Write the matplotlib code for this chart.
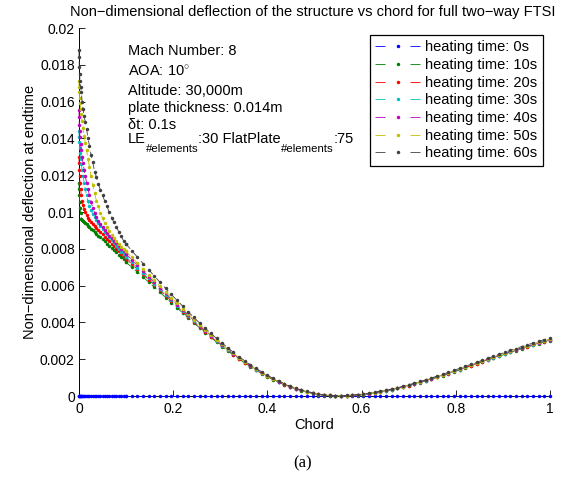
import numpy as np
import matplotlib
matplotlib.use('Agg')
import matplotlib.pyplot as plt
from matplotlib.lines import Line2D
from matplotlib.transforms import offset_copy

plt.rcParams['font.family'] = ['Liberation Sans', 'DejaVu Sans']
plt.rcParams['mathtext.fontset'] = 'custom'
plt.rcParams['mathtext.rm'] = 'Liberation Sans'
plt.rcParams['mathtext.it'] = 'Liberation Sans:italic'
plt.rcParams['mathtext.bf'] = 'Liberation Sans:bold'
plt.rcParams['lines.scale_dashes'] = False

# ---------------- data ----------------
heating_labels = ['heating time: 0s', 'heating time: 10s', 'heating time: 20s',
                  'heating time: 30s', 'heating time: 40s', 'heating time: 50s',
                  'heating time: 60s']

# leading-edge nodes (30 elements) chord positions
chord_le = [0.0, 0.00014, 0.00055, 0.00123, 0.00219, 0.00341, 0.00489, 0.00664,
            0.00865, 0.0109, 0.0134, 0.01613, 0.0191, 0.02229, 0.02569, 0.02929,
            0.03309, 0.03707, 0.04122, 0.04554, 0.05, 0.0546, 0.05933, 0.06416,
            0.0691, 0.07412, 0.07921, 0.08436, 0.08955, 0.09477, 0.1]
# flat plate nodes (75 elements)
chord_plate = np.linspace(0.1, 1.0, 76)

le_0s = [0.0] * 31
le_10s = [0.01157, 0.01123, 0.01090, 0.01057, 0.01024, 0.00992, 0.00962, 0.00956,
          0.00951, 0.00946, 0.00940, 0.00933, 0.00926, 0.00918, 0.00910, 0.00901,
          0.00892, 0.00882, 0.00872, 0.00862, 0.00851, 0.00840, 0.00828, 0.00817,
          0.00805, 0.00793, 0.00780, 0.00768, 0.00755, 0.00743, 0.00730]
le_20s = [0.01300, 0.01265, 0.01230, 0.01195, 0.01160, 0.01125, 0.01090, 0.01062,
          0.01038, 0.01017, 0.00999, 0.00983, 0.00969, 0.00956, 0.00945, 0.00934,
          0.00923, 0.00912, 0.00901, 0.00890, 0.00878, 0.00866, 0.00854, 0.00841,
          0.00828, 0.00815, 0.00801, 0.00787, 0.00773, 0.00759, 0.00746]
le_30s = [0.01442, 0.01410, 0.01380, 0.01350, 0.01320, 0.01290, 0.01260, 0.01228,
          0.01196, 0.01160, 0.01125, 0.01090, 0.01058, 0.01032, 0.01010, 0.00990,
          0.00972, 0.00955, 0.00940, 0.00925, 0.00910, 0.00894, 0.00878, 0.00862,
          0.00847, 0.00831, 0.00815, 0.00800, 0.00785, 0.00771, 0.00758]
le_40s = [0.01554, 0.01515, 0.01475, 0.01440, 0.01405, 0.01370, 0.01335, 0.01300,
          0.01265, 0.01230, 0.01195, 0.01160, 0.01125, 0.01090, 0.01055, 0.01022,
          0.00995, 0.00972, 0.00952, 0.00934, 0.00917, 0.00901, 0.00886, 0.00871,
          0.00857, 0.00843, 0.00829, 0.00815, 0.00801, 0.00787, 0.00773]
le_50s = [0.01710, 0.01680, 0.01650, 0.01620, 0.01590, 0.01560, 0.01530, 0.01495,
          0.01455, 0.01415, 0.01375, 0.01335, 0.01290, 0.01243, 0.01194, 0.01148,
          0.01102, 0.01060, 0.01030, 0.00995, 0.00965, 0.00940, 0.00917, 0.00896,
          0.00877, 0.00859, 0.00842, 0.00827, 0.00812, 0.00799, 0.00786]
le_60s = [0.01880, 0.01840, 0.01790, 0.01750, 0.01710, 0.01680, 0.01650, 0.01600,
          0.01560, 0.01520, 0.01490, 0.01450, 0.01400, 0.01360, 0.01310, 0.01270,
          0.01220, 0.01190, 0.01150, 0.01120, 0.01090, 0.01060, 0.01030, 0.01000,
          0.00970, 0.00944, 0.00918, 0.00893, 0.00868, 0.00843, 0.00826]

plate_0s = [0.0] * 76
plate_10s = [0.00726, 0.00700, 0.00673, 0.00646, 0.00619, 0.00591, 0.00563, 0.00535, 0.00507, 0.00479,
             0.00452, 0.00424, 0.00397, 0.00370, 0.00344, 0.00318, 0.00293, 0.00269, 0.00245, 0.00222,
             0.00200, 0.00179, 0.00159, 0.00140, 0.00122, 0.00105, 0.00089, 0.00075, 0.00061, 0.00049,
             0.00038, 0.00029, 0.00021, 0.00014, 0.00008, 0.00004, 0.00002, 0.0, 0.0, 0.00001,
             0.00003, 0.00005, 0.00008, 0.00012, 0.00017, 0.00022, 0.00028, 0.00034, 0.00041, 0.00048,
             0.00056, 0.00065, 0.00073, 0.00082, 0.00092, 0.00101, 0.00111, 0.00121, 0.00132, 0.00142,
             0.00153, 0.00163, 0.00174, 0.00185, 0.00195, 0.00206, 0.00216, 0.00227, 0.00237, 0.00247,
             0.00257, 0.00266, 0.00275, 0.00284, 0.00293, 0.00301]
plate_20s = [0.00746, 0.00718, 0.00689, 0.00661, 0.00632, 0.00603, 0.00574, 0.00545, 0.00516, 0.00487,
             0.00459, 0.00431, 0.00403, 0.00375, 0.00349, 0.00322, 0.00297, 0.00273, 0.00248, 0.00225,
             0.00203, 0.00181, 0.00161, 0.00142, 0.00124, 0.00107, 0.00090, 0.00076, 0.00062, 0.00050,
             0.00039, 0.00030, 0.00022, 0.00015, 0.00009, 0.00005, 0.00003, 0.0, 0.0, 0.00001,
             0.00004, 0.00006, 0.00009, 0.00013, 0.00018, 0.00023, 0.00029, 0.00035, 0.00042, 0.00049,
             0.00057, 0.00066, 0.00074, 0.00083, 0.00093, 0.00102, 0.00112, 0.00122, 0.00134, 0.00144,
             0.00155, 0.00165, 0.00176, 0.00187, 0.00197, 0.00208, 0.00218, 0.00229, 0.00239, 0.00249,
             0.00259, 0.00268, 0.00278, 0.00287, 0.00296, 0.00304]
plate_30s = [0.00756, 0.00727, 0.00698, 0.00668, 0.00639, 0.00609, 0.00580, 0.00550, 0.00521, 0.00491,
             0.00463, 0.00434, 0.00406, 0.00378, 0.00352, 0.00325, 0.00299, 0.00274, 0.00250, 0.00227,
             0.00204, 0.00183, 0.00162, 0.00143, 0.00125, 0.00107, 0.00091, 0.00077, 0.00063, 0.00051,
             0.00040, 0.00030, 0.00022, 0.00015, 0.00009, 0.00005, 0.00003, 0.00001, 0.00001, 0.00002,
             0.00004, 0.00006, 0.00009, 0.00013, 0.00018, 0.00023, 0.00029, 0.00035, 0.00042, 0.00050,
             0.00058, 0.00067, 0.00075, 0.00084, 0.00094, 0.00103, 0.00113, 0.00123, 0.00134, 0.00144,
             0.00155, 0.00166, 0.00177, 0.00188, 0.00198, 0.00209, 0.00219, 0.00230, 0.00240, 0.00250,
             0.00261, 0.00270, 0.00279, 0.00288, 0.00297, 0.00305]
plate_40s = [0.00771, 0.00741, 0.00710, 0.00679, 0.00649, 0.00618, 0.00588, 0.00558, 0.00527, 0.00497,
             0.00469, 0.00439, 0.00411, 0.00382, 0.00355, 0.00328, 0.00302, 0.00277, 0.00253, 0.00229,
             0.00206, 0.00184, 0.00164, 0.00145, 0.00126, 0.00109, 0.00092, 0.00078, 0.00064, 0.00051,
             0.00040, 0.00031, 0.00023, 0.00016, 0.00009, 0.00005, 0.00003, 0.00001, 0.00001, 0.00002,
             0.00004, 0.00006, 0.00009, 0.00013, 0.00019, 0.00024, 0.00030, 0.00036, 0.00043, 0.00050,
             0.00058, 0.00067, 0.00076, 0.00085, 0.00095, 0.00104, 0.00114, 0.00124, 0.00136, 0.00146,
             0.00157, 0.00167, 0.00178, 0.00189, 0.00200, 0.00211, 0.00221, 0.00232, 0.00242, 0.00252,
             0.00262, 0.00271, 0.00281, 0.00290, 0.00299, 0.00307]
plate_50s = [0.00786, 0.00754, 0.00722, 0.00690, 0.00659, 0.00628, 0.00596, 0.00565, 0.00534, 0.00504,
             0.00474, 0.00444, 0.00415, 0.00386, 0.00359, 0.00331, 0.00305, 0.00280, 0.00255, 0.00231,
             0.00208, 0.00186, 0.00166, 0.00146, 0.00127, 0.00110, 0.00093, 0.00079, 0.00065, 0.00052,
             0.00041, 0.00031, 0.00023, 0.00016, 0.00010, 0.00006, 0.00004, 0.00001, 0.00001, 0.00002,
             0.00005, 0.00007, 0.00010, 0.00014, 0.00019, 0.00024, 0.00030, 0.00036, 0.00043, 0.00051,
             0.00059, 0.00068, 0.00077, 0.00086, 0.00096, 0.00105, 0.00115, 0.00125, 0.00137, 0.00147,
             0.00158, 0.00168, 0.00179, 0.00190, 0.00201, 0.00212, 0.00222, 0.00234, 0.00244, 0.00254,
             0.00264, 0.00273, 0.00283, 0.00292, 0.00301, 0.00309]
plate_60s = [0.00826, 0.00790, 0.00755, 0.00720, 0.00686, 0.00652, 0.00618, 0.00585, 0.00552, 0.00520,
             0.00489, 0.00457, 0.00427, 0.00397, 0.00369, 0.00340, 0.00313, 0.00287, 0.00262, 0.00237,
             0.00214, 0.00191, 0.00170, 0.00150, 0.00131, 0.00113, 0.00096, 0.00082, 0.00067, 0.00054,
             0.00043, 0.00033, 0.00025, 0.00018, 0.00011, 0.00007, 0.00005, 0.00002, 0.00002, 0.00003,
             0.00006, 0.00008, 0.00011, 0.00015, 0.00021, 0.00026, 0.00032, 0.00038, 0.00045, 0.00053,
             0.00061, 0.00070, 0.00079, 0.00088, 0.00098, 0.00108, 0.00118, 0.00128, 0.00140, 0.00150,
             0.00161, 0.00172, 0.00183, 0.00194, 0.00205, 0.00216, 0.00226, 0.00238, 0.00248, 0.00258,
             0.00269, 0.00278, 0.00288, 0.00297, 0.00307, 0.00315]

le_series = [le_0s, le_10s, le_20s, le_30s, le_40s, le_50s, le_60s]
plate_series = [plate_0s, plate_10s, plate_20s, plate_30s, plate_40s, plate_50s, plate_60s]

x_ticks = [0, 0.2, 0.4, 0.6, 0.8, 1.0]
x_ticklabels = ['0', '0.2', '0.4', '0.6', '0.8', '1']
y_ticks = [0, 0.002, 0.004, 0.006, 0.008, 0.01, 0.012, 0.014, 0.016, 0.018, 0.02]
y_ticklabels = ['0', '0.002', '0.004', '0.006', '0.008', '0.01', '0.012', '0.014',
                '0.016', '0.018', '0.02']

colors = [(0, 0, 1), (0, 0.5, 0), (1, 0, 0), (0, 0.75, 0.75),
          (0.75, 0, 0.75), (0.75, 0.75, 0), (0.25, 0.25, 0.25)]

FS = 10.5

# ---------------- figure ----------------
fig = plt.figure(figsize=(5.7, 4.87), dpi=100)
ax = fig.add_axes([79 / 570, 1 - 396 / 487, 471 / 570, 368 / 487])

style = dict(lw=0.6, ls='--', dashes=(4.5, 3.7), marker='o', ms=2.5, mew=0, clip_on=False)
for i in range(7):
    ax.plot(chord_le, le_series[i], color=colors[i], zorder=3 + i, **style)
    ax.plot(chord_plate, plate_series[i], color=colors[i], zorder=3 + i, **style)

ax.set_xlim(0, 1)
ax.set_ylim(0, 0.02)
ax.set_xticks(x_ticks)
ax.set_xticklabels(x_ticklabels)
ax.set_yticks(y_ticks)
ax.set_yticklabels(y_ticklabels)
ax.tick_params(direction='in', length=4, width=0.6, labelsize=10, top=False, right=False)
ax.tick_params(axis='y', pad=3)
ax.tick_params(axis='x', pad=4)
for s in ['top', 'right']:
    ax.spines[s].set_visible(False)
for s in ['left', 'bottom']:
    ax.spines[s].set_linewidth(0.7)

ax.set_xlabel('Chord', fontsize=FS, labelpad=2)
ax.set_ylabel('Non\u2212dimensional deflection at endtime', fontsize=FS, labelpad=2)

fig.text(313 / 570, 1 - 12 / 487,
         'Non\u2212dimensional deflection of the structure vs chord for full two\u2212way FTSI',
         ha='center', va='center', fontsize=FS)

# annotation block
tx = (128 - 79) / 471
def ybase(px):
    return (396 - px) / 368

ax.text(tx, ybase(55), 'Mach Number: 8', transform=ax.transAxes, fontsize=FS, va='baseline')
ax.text(tx, ybase(76), r'AOA: 10$^{\circ}$', transform=ax.transAxes, fontsize=FS, va='baseline')
ax.text(tx, ybase(95), 'Altitude: 30,000m', transform=ax.transAxes, fontsize=FS, va='baseline')
ax.text(tx, ybase(111.7), 'plate thickness: 0.014m', transform=ax.transAxes, fontsize=FS, va='baseline')
ax.text(tx, ybase(129.3), '\u03b4t: 0.1s', transform=ax.transAxes, fontsize=FS, va='baseline')

# LE_{#elements}:30 FlatPlate_{#elements}:75 built from pieces
pieces = [('LE', FS, 0), ('#elements', FS * 0.78, -6.0), (':30 FlatPlate', FS, 0),
          ('#elements', FS * 0.78, -6.0), (':75', FS, 0)]
fig.canvas.draw()
renderer = fig.canvas.get_renderer()
xoff = 0.0
for txt, size, dy in pieces:
    tr = offset_copy(ax.transAxes, fig=fig, x=xoff, y=dy, units='points')
    t = ax.text(tx, ybase(143.3), txt, transform=tr, fontsize=size, va='baseline')
    bb = t.get_window_extent(renderer=renderer)
    xoff += bb.width * 72.0 / fig.dpi

# legend with proxy handles
handles = [Line2D([], [], color=colors[i], lw=0.6, ls='--', dashes=(7.2, 18),
                  marker='o', ms=2.5, mew=0) for i in range(7)]
leg = ax.legend(handles, heating_labels, loc='upper right', fontsize=FS,
                handlelength=3.1, handletextpad=0.33, labelspacing=0.25,
                borderpad=0.4, borderaxespad=0.45, numpoints=1,
                fancybox=False, framealpha=1, edgecolor='black')
leg.get_frame().set_linewidth(0.9)

fig.text(303 / 570, 1 - 463 / 487, '(a)', ha='center', va='center',
         fontsize=12, family=['Liberation Serif', 'DejaVu Serif'])

fig.savefig('out.png', dpi=100)
